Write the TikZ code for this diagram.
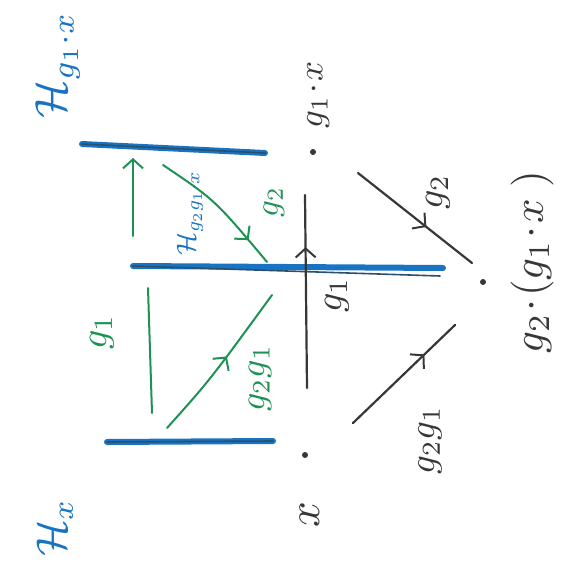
\documentclass[tikz,border=0pt]{standalone}
\usetikzlibrary{arrows.meta,decorations.markings}
\definecolor{penblue}{RGB}{25,115,195}
\definecolor{pengreen}{RGB}{30,145,85}
\definecolor{penblack}{RGB}{55,55,55}
\tikzset{
  wall/.style={line width=6pt, penblue, line cap=round},
  wallcore/.style={line width=1.6pt, penblack!60!penblue, line cap=round},
  blk/.style={penblack, line width=2.2pt, line cap=round},
  grn/.style={pengreen, line width=2pt, line cap=round},
  midarrow/.style={postaction={decorate}, decoration={markings, mark=at position #1 with {\arrow{Straight Barb[length=9pt,width=20pt,line width=2pt]}}}},
  lbl/.style={rotate=90, inner sep=0pt},
  dotnode/.style={circle, fill=penblack, inner sep=0pt, minimum size=6pt},
}
\begin{document}
\begin{tikzpicture}[x=1pt,y=-1pt]
\useasboundingbox (0,0) rectangle (571,573);
% walls (cosets)
\coordinate (t1) at (82,144); \coordinate (t2) at (265,153);
\coordinate (m1) at (133,266); \coordinate (m2) at (443,268);
\coordinate (b1) at (107,442); \coordinate (b2) at (273,441);
\draw[wall] (t1) -- (t2);
\draw[wallcore] (t1) -- (t2);
\draw[wall] (m1) -- (m2);
\draw[wallcore] (m1) -- (440,276);
\draw[wall] (b1) -- (b2);
\draw[wallcore] (b1) -- (b2);
% black points
\node[dotnode] (px) at (305,455) {};
\node[dotnode] (pg1) at (313,152) {};
\node[dotnode] (pg2) at (483,282) {};
% black labels
\node[lbl, penblack, scale=4.5] (lx) at (310,515) {$x$};
\node[lbl, penblack, scale=3.5] (lg1x) at (318,95) {$g_1\!\cdot\! x$};
\node[lbl, penblack, scale=4.3] (lg2g1x) at (532,262) {$g_2\!\cdot\!(g_1\!\cdot\! x\;)$};
% black arrows
\coordinate (va) at (307,388); \coordinate (vb) at (305,195);
\draw[blk, midarrow=0.73] (va) -- (vb);
\node[lbl, penblack, scale=3.8] (bg1) at (337,295) {$g_1$};
\coordinate (da) at (358,173); \coordinate (db) at (472,263);
\draw[blk, midarrow=0.6] (da) -- (db);
\node[lbl, penblack, scale=3.8] (bg2) at (438,192) {$g_2$};
\coordinate (ea) at (353,423); \coordinate (eb) at (455,325);
\draw[blk, midarrow=0.7] (ea) -- (eb);
\node[lbl, penblack, scale=3.7] (bg21) at (430,440) {$g_2g_1$};
% green arrows
\coordinate (ga) at (133,236); \coordinate (gb) at (133,158);
\draw[grn, -{Straight Barb[length=9pt,width=20pt,line width=2pt]}] (ga) -- (gb);
\coordinate (ha) at (163,165); \coordinate (hb) at (267,262);
\draw[grn, midarrow=0.8] (ha) .. controls (215,200) .. (hb);
\node[lbl, pengreen, scale=3.3] (gg2) at (274,202) {$g_2$};
\coordinate (ia) at (148,288); \coordinate (ib) at (152,413);
\draw[grn] (ia) -- (ib);
\node[lbl, pengreen, scale=3.8] (gg1) at (102,332) {$g_1$};
\coordinate (ja) at (167,428); \coordinate (jb) at (272,295);
\draw[grn, midarrow=0.55] (ja) .. controls (210,380) .. (jb);
\node[lbl, pengreen, scale=3.6] (gg21) at (260,378) {$g_2g_1$};
% blue coset labels
\node[lbl, penblue, scale=4.5] (Hg1) at (58,65) {$\mathcal{H}_{g_1\cdot x}$};
\node[lbl, penblue, scale=2.7] (Hg21) at (190,213) {$\mathcal{H}_{g_2g_1\cdot x}$};
\node[lbl, penblue, scale=4.3] (Hx) at (55,528) {$\mathcal{H}_x$};
\end{tikzpicture}
\end{document}
